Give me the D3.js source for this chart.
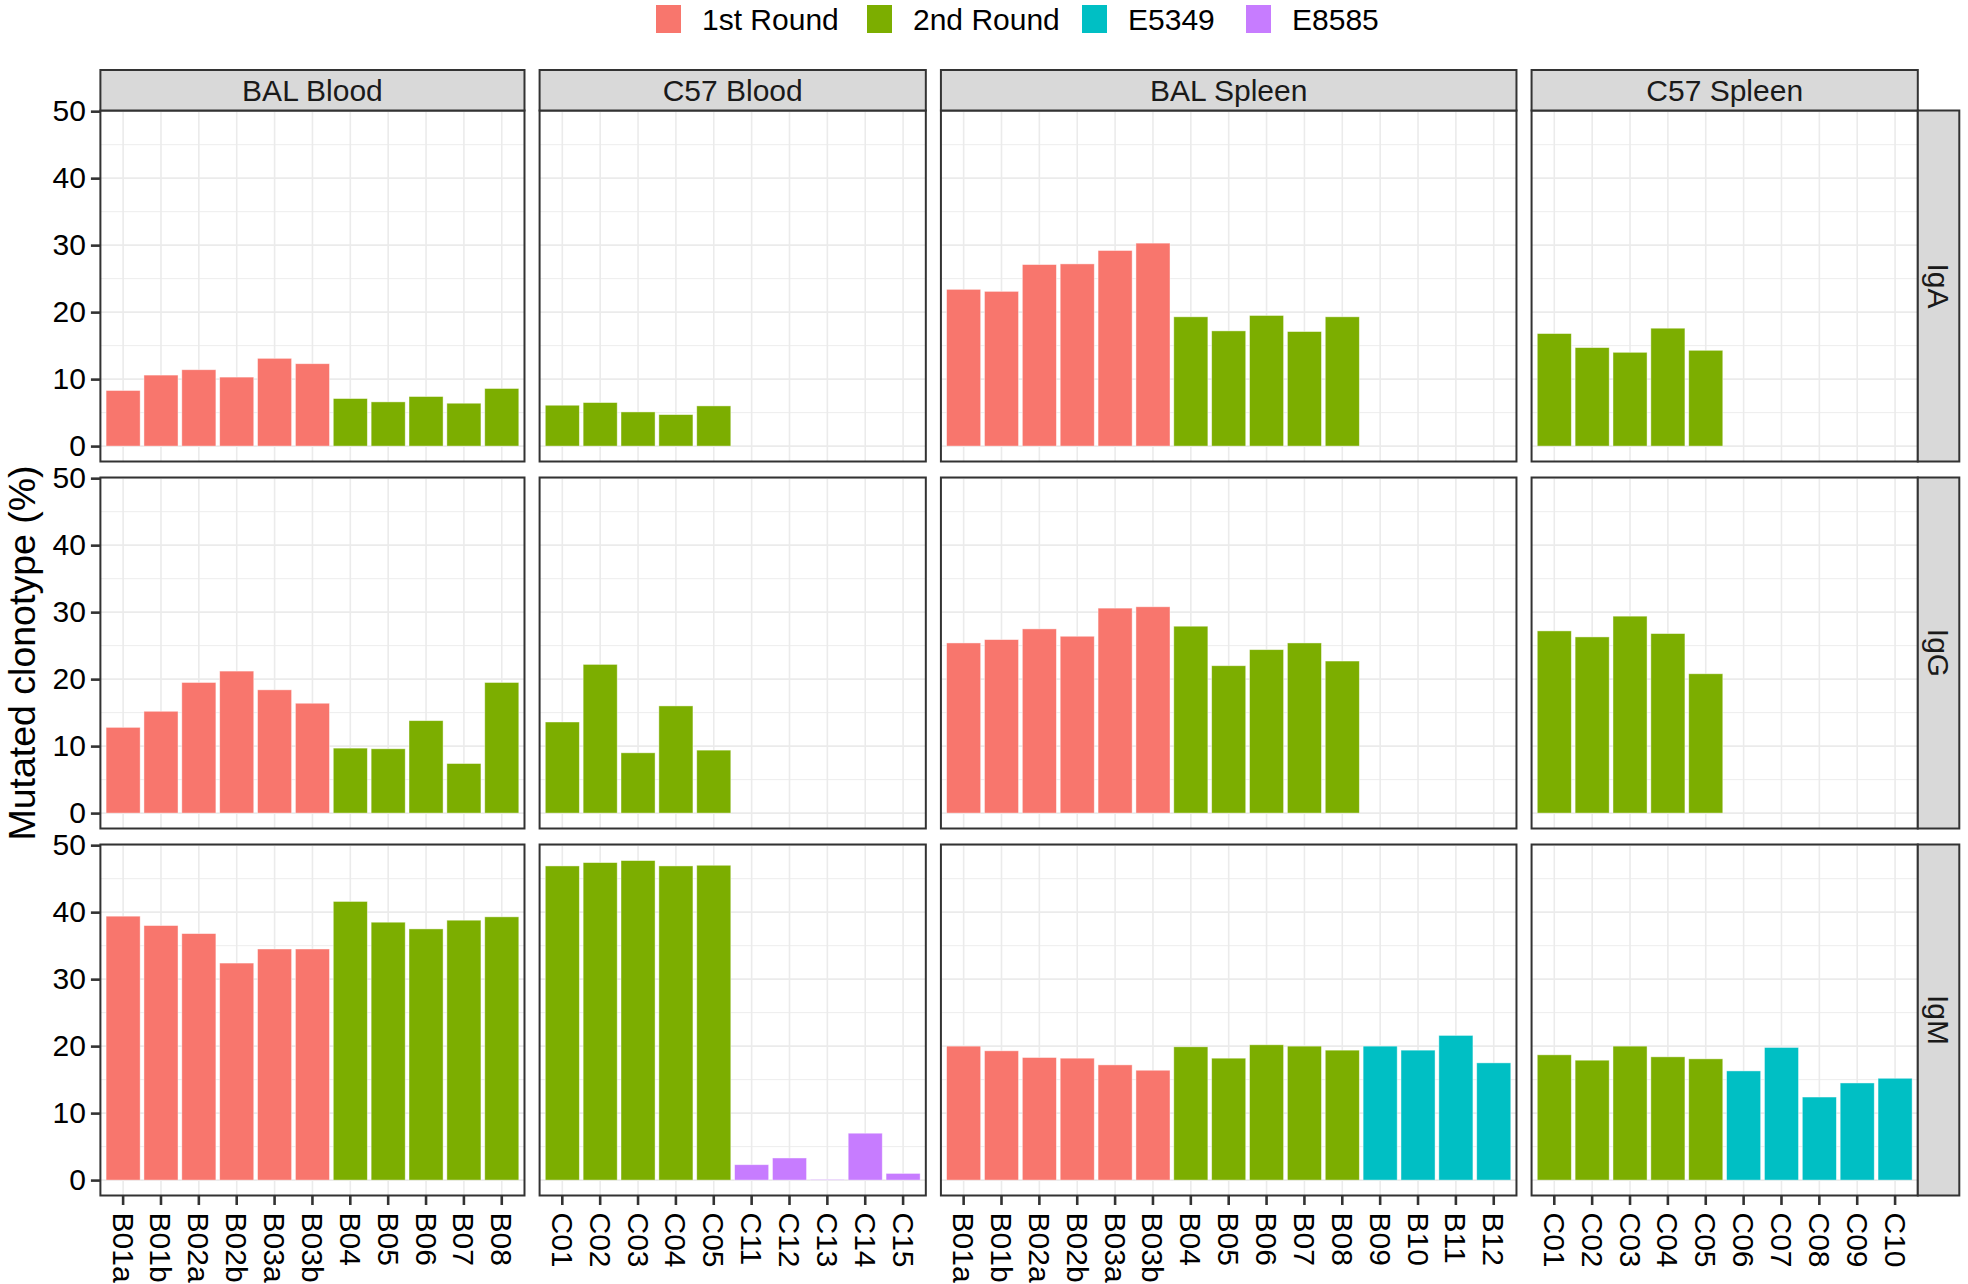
<!DOCTYPE html>
<html><head><meta charset="utf-8">
<script src="https://cdn.jsdelivr.net/npm/d3@7"></script>
<style>body{margin:0;background:#fff}text{font-family:"Liberation Sans",Arial,Helvetica,sans-serif}</style>
</head><body><svg id="c" width="1968" height="1284"></svg>
<script>
// ---------- data ----------
const groups = ["1st Round", "2nd Round", "E5349", "E8585"];
const groupColors = ["#F8766D", "#7CAE00", "#00BFC4", "#C77CFF"];
const tissues = ["BAL Blood", "C57 Blood", "BAL Spleen", "C57 Spleen"];
const isotypes = ["IgA", "IgG", "IgM"];
const yTicks = [0, 10, 20, 30, 40, 50];

const balBloodSamples = ["B01a","B01b","B02a","B02b","B03a","B03b","B04","B05","B06","B07","B08"];
const balBloodGroups  = ["1st Round","1st Round","1st Round","1st Round","1st Round","1st Round","2nd Round","2nd Round","2nd Round","2nd Round","2nd Round"];
const balBloodIgA = [8.3, 10.6, 11.4, 10.3, 13.1, 12.3, 7.1, 6.6, 7.4, 6.4, 8.6];
const balBloodIgG = [12.8, 15.2, 19.5, 21.2, 18.4, 16.4, 9.7, 9.6, 13.8, 7.4, 19.5];
const balBloodIgM = [39.4, 38.0, 36.8, 32.4, 34.5, 34.5, 41.6, 38.5, 37.5, 38.8, 39.3];

const c57BloodSamples = ["C01","C02","C03","C04","C05","C11","C12","C13","C14","C15"];
const c57BloodGroups  = ["2nd Round","2nd Round","2nd Round","2nd Round","2nd Round","E8585","E8585","E8585","E8585","E8585"];
const c57BloodIgA = [6.1, 6.5, 5.1, 4.7, 6.0, null, null, null, null, null];
const c57BloodIgG = [13.6, 22.2, 9.0, 16.0, 9.4, null, null, null, null, null];
const c57BloodIgM = [46.9, 47.4, 47.7, 46.9, 47.0, 2.3, 3.3, 0.1, 7.0, 1.0];

const balSpleenSamples = ["B01a","B01b","B02a","B02b","B03a","B03b","B04","B05","B06","B07","B08","B09","B10","B11","B12"];
const balSpleenGroups  = ["1st Round","1st Round","1st Round","1st Round","1st Round","1st Round","2nd Round","2nd Round","2nd Round","2nd Round","2nd Round","E5349","E5349","E5349","E5349"];
const balSpleenIgA = [23.4, 23.1, 27.1, 27.2, 29.2, 30.3, 19.3, 17.2, 19.5, 17.1, 19.3, null, null, null, null];
const balSpleenIgG = [25.4, 25.9, 27.5, 26.4, 30.6, 30.8, 27.9, 22.0, 24.4, 25.4, 22.7, null, null, null, null];
const balSpleenIgM = [20.0, 19.3, 18.3, 18.2, 17.2, 16.4, 19.9, 18.2, 20.2, 20.0, 19.4, 20.0, 19.4, 21.6, 17.5];

const c57SpleenSamples = ["C01","C02","C03","C04","C05","C06","C07","C08","C09","C10"];
const c57SpleenGroups  = ["2nd Round","2nd Round","2nd Round","2nd Round","2nd Round","E5349","E5349","E5349","E5349","E5349"];
const c57SpleenIgA = [16.8, 14.7, 14.0, 17.6, 14.3, null, null, null, null, null];
const c57SpleenIgG = [27.2, 26.3, 29.4, 26.8, 20.8, null, null, null, null, null];
const c57SpleenIgM = [18.7, 17.9, 20.0, 18.4, 18.1, 16.3, 19.8, 12.4, 14.5, 15.2];

// tables built from the arrays above
const colSamples = [balBloodSamples, c57BloodSamples, balSpleenSamples, c57SpleenSamples];
const colGroups  = [balBloodGroups, c57BloodGroups, balSpleenGroups, c57SpleenGroups];
const values = [
  [balBloodIgA, c57BloodIgA, balSpleenIgA, c57SpleenIgA],
  [balBloodIgG, c57BloodIgG, balSpleenIgG, c57SpleenIgG],
  [balBloodIgM, c57BloodIgM, balSpleenIgM, c57SpleenIgM]
];

// ---------- layout ----------
const svg = d3.select("#c");
const plotLeft = 100.4, plotRight = 1917.8, hGap = 15.1;
const rowTop0 = 110.5, rowH = 351, vGap = 16;
const stripTop = 70, stripRightW = 41.5;
const unitsPer = colSamples.map(s => s.length + 0.2);
const unit = (plotRight - plotLeft - hGap * 3) / d3.sum(unitsPer);
const colX = [];
let cx = plotLeft;
unitsPer.forEach(u => { colX.push([cx, cx + u * unit]); cx += u * unit + hGap; });
const rowY = isotypes.map((_, i) => [rowTop0 + i * (rowH + vGap), rowTop0 + i * (rowH + vGap) + rowH]);

const color = d3.scaleOrdinal().domain(groups).range(groupColors);
const font = 30;
const gridCol = "#EBEBEB";
const dark = "#333333";

// ---------- legend ----------
const legendKeyX = [656, 867, 1082, 1246];
const lg = svg.append("g");
groups.forEach((g, i) => {
  lg.append("rect").attr("x", legendKeyX[i]).attr("y", 5).attr("width", 25).attr("height", 28)
    .attr("fill", color(g));
  lg.append("text").attr("x", legendKeyX[i] + 46).attr("y", 19).attr("dy", "0.35em")
    .attr("font-size", font).attr("fill", "#000").text(g);
});

// ---------- panels ----------
isotypes.forEach((iso, r) => {
  const [y0, y1] = rowY[r];
  const y = d3.scaleLinear().domain([-2.3, 50.1]).range([y1, y0]);
  tissues.forEach((tis, c) => {
    const [x0, x1] = colX[c];
    const x = d3.scaleBand().domain(colSamples[c]).range([x0, x1]).paddingInner(0.1).paddingOuter(0.15);
    const g = svg.append("g");
    g.append("rect").attr("x", x0).attr("y", y0).attr("width", x1 - x0).attr("height", y1 - y0).attr("fill", "#fff");
    // minor y grid
    d3.range(5, 50, 10).forEach(v => {
      g.append("line").attr("x1", x0).attr("x2", x1).attr("y1", y(v)).attr("y2", y(v))
        .attr("stroke", gridCol).attr("stroke-width", 0.9);
    });
    // major y grid
    yTicks.forEach(v => {
      g.append("line").attr("x1", x0).attr("x2", x1).attr("y1", y(v)).attr("y2", y(v))
        .attr("stroke", gridCol).attr("stroke-width", 1.6);
    });
    // x grid
    colSamples[c].forEach(s => {
      const xc = x(s) + x.bandwidth() / 2;
      g.append("line").attr("x1", xc).attr("x2", xc).attr("y1", y0).attr("y2", y1)
        .attr("stroke", gridCol).attr("stroke-width", 1.6);
    });
    // bars
    const data = colSamples[c].map((s, i) => ({ s, grp: colGroups[c][i], v: values[r][c][i] }))
      .filter(d => d.v !== null);
    g.selectAll("rect.bar").data(data).enter().append("rect").attr("class", "bar")
      .attr("x", d => x(d.s)).attr("width", x.bandwidth())
      .attr("y", d => y(d.v)).attr("height", d => y(0) - y(d.v))
      .attr("fill", d => color(d.grp))
      .attr("stroke", "#fff").attr("stroke-width", 0.8).attr("stroke-opacity", 0.55);
    // border
    g.append("rect").attr("x", x0).attr("y", y0).attr("width", x1 - x0).attr("height", y1 - y0)
      .attr("fill", "none").attr("stroke", dark).attr("stroke-width", 2);

    // y axis on first column
    if (c === 0) {
      const ax = svg.append("g").attr("transform", `translate(${x0},0)`)
        .call(d3.axisLeft(y).tickValues(yTicks).tickSize(9.5).tickPadding(5).tickFormat(d3.format("d")));
      ax.select(".domain").remove();
      ax.selectAll(".tick line").attr("stroke", dark).attr("stroke-width", 2.6);
      ax.selectAll(".tick text").attr("font-size", font).attr("fill", "#000")
        .attr("font-family", '"Liberation Sans",Arial,sans-serif');
    }
    // x axis on bottom row
    if (r === isotypes.length - 1) {
      const ax = svg.append("g").attr("transform", `translate(0,${y1})`)
        .call(d3.axisBottom(x).tickSize(9.5).tickPadding(0));
      ax.select(".domain").remove();
      ax.selectAll(".tick line").attr("stroke", dark).attr("stroke-width", 2.6);
      ax.selectAll(".tick text").attr("font-size", font).attr("fill", "#000")
        .attr("font-family", '"Liberation Sans",Arial,sans-serif')
        .attr("text-anchor", "start").attr("dy", null).attr("y", null)
        .attr("dominant-baseline", "central")
        .attr("transform", "translate(0,17) rotate(90)");
    }
    // top strips
    if (r === 0) {
      svg.append("rect").attr("x", x0).attr("y", stripTop).attr("width", x1 - x0).attr("height", y0 - stripTop)
        .attr("fill", "#D9D9D9").attr("stroke", dark).attr("stroke-width", 2);
      svg.append("text").attr("x", (x0 + x1) / 2).attr("y", (stripTop + y0) / 2).attr("dy", "0.35em")
        .attr("text-anchor", "middle").attr("font-size", font).attr("fill", "#1A1A1A").text(tis);
    }
  });
  // right strip
  const sx = plotRight;
  svg.append("rect").attr("x", sx).attr("y", y0).attr("width", stripRightW).attr("height", y1 - y0)
    .attr("fill", "#D9D9D9").attr("stroke", dark).attr("stroke-width", 2);
  svg.append("text").attr("transform", `translate(${sx + stripRightW / 2},${(y0 + y1) / 2}) rotate(90)`)
    .attr("dy", "0.35em").attr("text-anchor", "middle").attr("font-size", font).attr("fill", "#1A1A1A").text(iso);
});

// y axis title
svg.append("text").attr("transform", `translate(22,${(rowY[0][0] + rowY[2][1]) / 2}) rotate(-90)`)
  .attr("dy", "0.35em").attr("text-anchor", "middle").attr("font-size", 37.5).attr("fill", "#000")
  .text("Mutated clonotype (%)");
</script></body></html>
